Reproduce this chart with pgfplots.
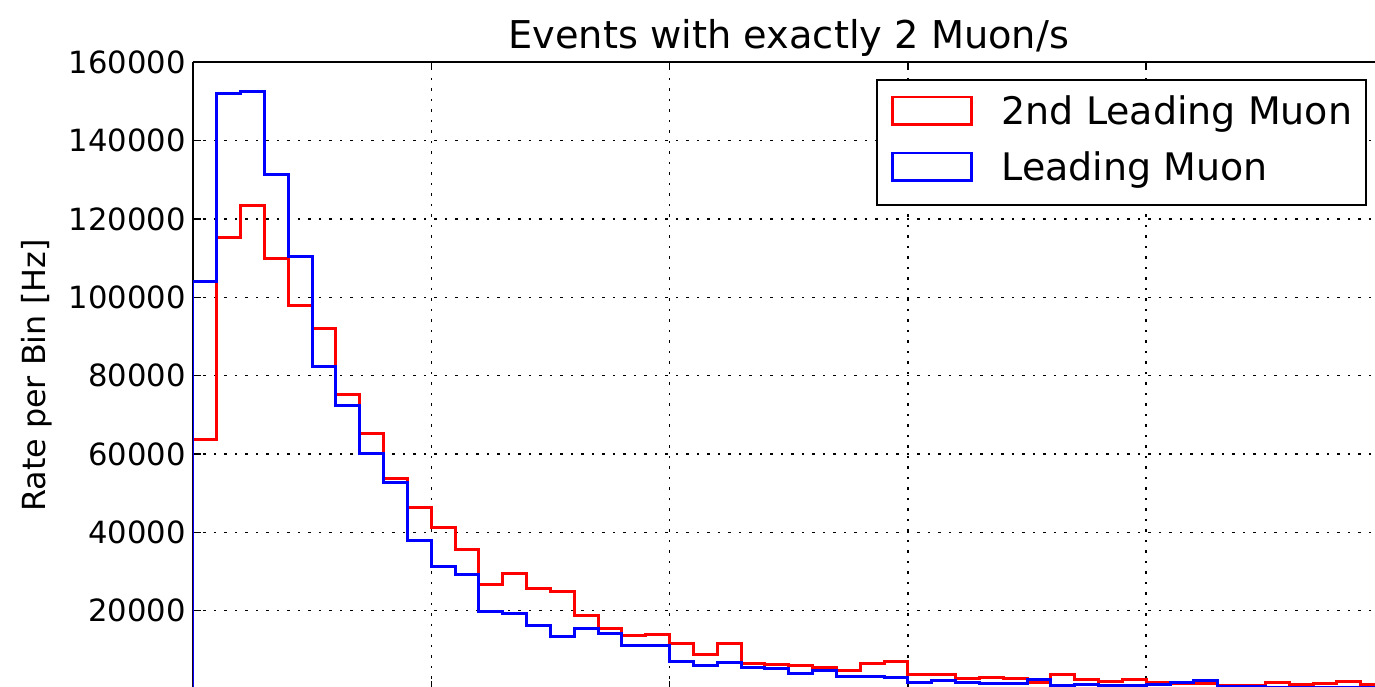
\documentclass[border=0pt]{standalone}
\usepackage{pgfplots}
\pgfplotsset{compat=1.18}
\usepackage{fontspec}
\setmainfont{DejaVu Sans}
\begin{document}
\begin{tikzpicture}
\path[use as bounding box, clip] (0,0) rectangle (13.75cm,6.86cm);
\begin{axis}[
  at={(1.93cm,6.238cm)}, anchor=north west,
  scale only axis, width=11.915cm, height=6.268cm,
  xmin=0, xmax=50, ymin=0, ymax=160000,
  xtick={10,20,30,40}, xticklabels={},
  ytick={20000,40000,...,160000},
  scaled y ticks=false,
  /pgf/number format/fixed,
  /pgf/number format/1000 sep={},
  /pgf/number format/assume math mode=true,
  separate axis lines,
  axis line style={black, line width=0.023cm},
  tick align=inside,
  major tick length=0.08cm,
  tick style={black, line width=0.015cm},
  grid=major,
  major grid style={black, line width=0.015cm, dash pattern=on 0.025cm off 0.08cm},
  yticklabel style={font=\fontsize{8.71}{10}\selectfont, inner sep=0pt, xshift=-0.065cm},
  ylabel={Rate per Bin [Hz]},
  ylabel style={font=\fontsize{9.05}{10}\selectfont, at={(axis description cs:-0.1309,0.5)}, anchor=center, inner sep=0pt},
  title={Events with exactly 2 Muon/s},
  every axis title/.style={font=\fontsize{10.9}{13}\selectfont, at={(axis description cs:0.5,1)}, anchor=base, yshift=0.14cm, inner sep=0pt},
  legend cell align=left,
  legend image code/.code={
    \path[draw=none, fill=none] (0cm,-0.1765cm) rectangle (0.79cm,0.1765cm);
    \draw[#1, sharp plot, line width=0.028cm, line join=miter] (0cm,-0.0985cm) -- (0.79cm,-0.0985cm) -- (0.79cm,0.1765cm) -- (0cm,0.1765cm) -- cycle;
  },
  legend style={
    at={(axis description cs:0.5732,0.9726)}, anchor=north west,
    draw=black, line width=0.02cm, fill=white,
    inner xsep=0.14cm, inner ysep=0.142cm,
    column sep=0.29cm, row sep=0.16cm,
    nodes={inner sep=0pt, text height=0.3cm, text depth=0.1cm, font=\fontsize{10.8}{13}\selectfont},
  },
]
\addplot[red, line width=0.03cm, const plot mark left] coordinates {
(0,0) (0,63700) (1,115300) (2,123400) (3,110000) (4,98000) (5,91900) (6,75200) (7,65100) (8,53800) (9,46300)
(10,41200) (11,35700) (12,26600) (13,29600) (14,25700) (15,24800) (16,18700) (17,15400) (18,13600) (19,14000)
(20,11500) (21,8700) (22,11500) (23,6500) (24,6200) (25,5900) (26,5500) (27,4800) (28,6400) (29,6900)
(30,3830) (31,3830) (32,2630) (33,3060) (34,2720) (35,1610) (36,3660) (37,2550) (38,1790) (39,2300)
(40,1700) (41,1450) (42,1450) (43,1020) (44,1020) (45,1700) (46,1150) (47,1400) (48,1800) (49,1150) (50,1150)
};
\addlegendentry{2nd Leading Muon}
\addplot[blue, line width=0.03cm, const plot mark left] coordinates {
(0,0) (0,104000) (1,151900) (2,152600) (3,131300) (4,110300) (5,82300) (6,72300) (7,60100) (8,52600) (9,38000)
(10,31200) (11,29300) (12,19700) (13,19400) (14,16100) (15,13500) (16,15500) (17,14100) (18,11000) (19,11100)
(20,7100) (21,6000) (22,6800) (23,5500) (24,5300) (25,4000) (26,4600) (27,3200) (28,3300) (29,2900)
(30,1600) (31,2200) (32,1600) (33,1450) (34,1400) (35,2550) (36,850) (37,1200) (38,1000) (39,1000)
(40,1100) (41,1600) (42,2100) (43,700) (44,600) (45,500) (46,500) (47,400) (48,400) (49,400) (50,400)
};
\addlegendentry{Leading Muon}
\end{axis}
\end{tikzpicture}
\end{document}
